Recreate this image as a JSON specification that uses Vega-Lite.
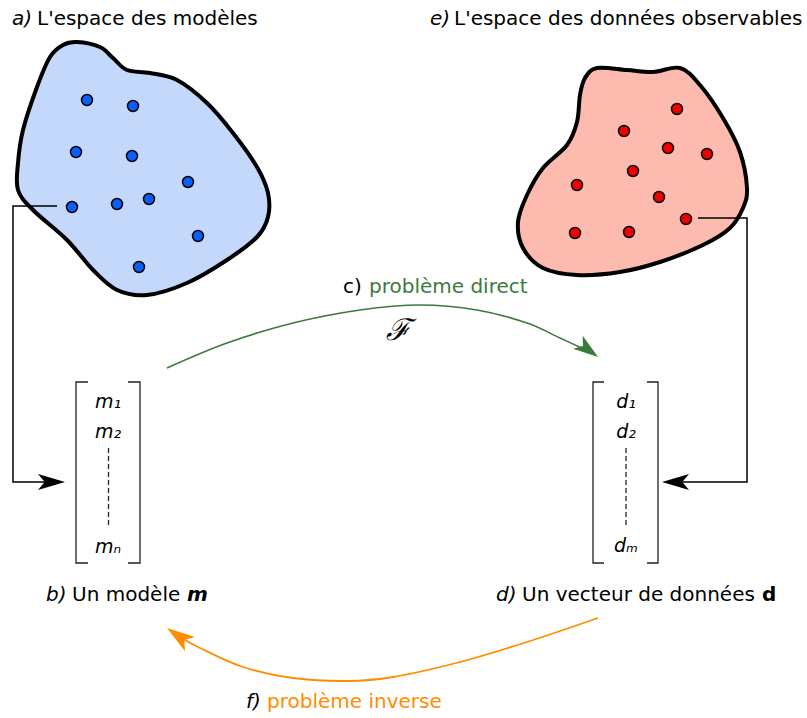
{
  "$schema": "https://vega.github.io/schema/vega-lite/v6.json",
  "width": 807,
  "height": 718,
  "padding": 0,
  "autosize": {"type": "fit", "contains": "padding"},
  "background": "white",
  "config": {"view": {"stroke": null}, "text": {"font": "DejaVu Sans"}},
  "datasets": {
    "blueBlob": [
      {"i": 1, "x": 77, "y": 42}, {"i": 2, "x": 100, "y": 47}, {"i": 3, "x": 113, "y": 58}, {"i": 4, "x": 127, "y": 70},
      {"i": 5, "x": 150, "y": 73}, {"i": 6, "x": 177, "y": 80}, {"i": 7, "x": 207, "y": 103}, {"i": 8, "x": 233, "y": 133},
      {"i": 9, "x": 257, "y": 167}, {"i": 10, "x": 268, "y": 193}, {"i": 11, "x": 268, "y": 217}, {"i": 12, "x": 257, "y": 237},
      {"i": 13, "x": 227, "y": 260}, {"i": 14, "x": 187, "y": 283}, {"i": 15, "x": 147, "y": 295}, {"i": 16, "x": 117, "y": 290},
      {"i": 17, "x": 93, "y": 270}, {"i": 18, "x": 67, "y": 240}, {"i": 19, "x": 33, "y": 210}, {"i": 20, "x": 18, "y": 190},
      {"i": 21, "x": 18, "y": 163}, {"i": 22, "x": 23, "y": 130}, {"i": 23, "x": 37, "y": 87}, {"i": 24, "x": 50, "y": 57},
      {"i": 25, "x": 63, "y": 45}
    ],
    "redBlob": [
      {"i": 1, "x": 597, "y": 68}, {"i": 2, "x": 627, "y": 70}, {"i": 3, "x": 653, "y": 72}, {"i": 4, "x": 680, "y": 68},
      {"i": 5, "x": 700, "y": 85}, {"i": 6, "x": 723, "y": 118}, {"i": 7, "x": 740, "y": 152}, {"i": 8, "x": 747, "y": 188},
      {"i": 9, "x": 743, "y": 208}, {"i": 10, "x": 730, "y": 228}, {"i": 11, "x": 703, "y": 245}, {"i": 12, "x": 660, "y": 262},
      {"i": 13, "x": 620, "y": 272}, {"i": 14, "x": 577, "y": 275}, {"i": 15, "x": 543, "y": 268}, {"i": 16, "x": 523, "y": 248},
      {"i": 17, "x": 518, "y": 222}, {"i": 18, "x": 527, "y": 195}, {"i": 19, "x": 543, "y": 168}, {"i": 20, "x": 567, "y": 145},
      {"i": 21, "x": 577, "y": 122}, {"i": 22, "x": 580, "y": 95}, {"i": 23, "x": 585, "y": 78}
    ],
    "blueDots": [
      {"x": 87, "y": 100}, {"x": 133, "y": 106}, {"x": 76, "y": 152}, {"x": 132, "y": 156}, {"x": 188, "y": 182},
      {"x": 72, "y": 207}, {"x": 117, "y": 204}, {"x": 149, "y": 199}, {"x": 198, "y": 236}, {"x": 139, "y": 267}
    ],
    "redDots": [
      {"x": 677, "y": 109}, {"x": 624, "y": 131}, {"x": 668, "y": 148}, {"x": 707, "y": 154}, {"x": 633, "y": 171},
      {"x": 577, "y": 185}, {"x": 659, "y": 197}, {"x": 575, "y": 233}, {"x": 629, "y": 232}, {"x": 686, "y": 219}
    ],
    "connectors": [
      {"g": "left", "i": 1, "x": 57, "y": 206}, {"g": "left", "i": 2, "x": 13, "y": 206}, {"g": "left", "i": 3, "x": 13, "y": 482}, {"g": "left", "i": 4, "x": 55, "y": 482},
      {"g": "right", "i": 1, "x": 698, "y": 218}, {"g": "right", "i": 2, "x": 747, "y": 218}, {"g": "right", "i": 3, "x": 747, "y": 482}, {"g": "right", "i": 4, "x": 672, "y": 482}
    ],
    "brackets": [
      {"g": "mL", "i": 1, "x": 88, "y": 382}, {"g": "mL", "i": 2, "x": 76, "y": 382}, {"g": "mL", "i": 3, "x": 76, "y": 563}, {"g": "mL", "i": 4, "x": 88, "y": 563},
      {"g": "mR", "i": 1, "x": 128, "y": 382}, {"g": "mR", "i": 2, "x": 140, "y": 382}, {"g": "mR", "i": 3, "x": 140, "y": 563}, {"g": "mR", "i": 4, "x": 128, "y": 563},
      {"g": "dL", "i": 1, "x": 604, "y": 382}, {"g": "dL", "i": 2, "x": 593, "y": 382}, {"g": "dL", "i": 3, "x": 593, "y": 563}, {"g": "dL", "i": 4, "x": 604, "y": 563},
      {"g": "dR", "i": 1, "x": 647, "y": 382}, {"g": "dR", "i": 2, "x": 658, "y": 382}, {"g": "dR", "i": 3, "x": 658, "y": 563}, {"g": "dR", "i": 4, "x": 647, "y": 563}
    ],
    "dashes": [
      {"g": "m", "i": 1, "x": 108.5, "y": 448}, {"g": "m", "i": 2, "x": 108.5, "y": 525},
      {"g": "d", "i": 1, "x": 626, "y": 448}, {"g": "d", "i": 2, "x": 626, "y": 525}
    ],
    "direct": [
      {"i": 1, "x": 167, "y": 368}, {"i": 2, "x": 227, "y": 343}, {"i": 3, "x": 293, "y": 323}, {"i": 4, "x": 360, "y": 310},
      {"i": 5, "x": 420, "y": 305}, {"i": 6, "x": 477, "y": 310}, {"i": 7, "x": 527, "y": 323}, {"i": 8, "x": 560, "y": 338},
      {"i": 9, "x": 588, "y": 351}
    ],
    "inverse": [
      {"i": 1, "x": 598, "y": 618}, {"i": 2, "x": 527, "y": 642}, {"i": 3, "x": 460, "y": 662}, {"i": 4, "x": 393, "y": 677},
      {"i": 5, "x": 347, "y": 681}, {"i": 6, "x": 293, "y": 678}, {"i": 7, "x": 243, "y": 667}, {"i": 8, "x": 200, "y": 648},
      {"i": 9, "x": 180, "y": 637}
    ],
    "headRight": [{"x": 51.5, "y": 482}],
    "headLeft": [{"x": 675.5, "y": 482}],
    "headDirect": [{"x": 588, "y": 349.6}],
    "headInverse": [{"x": 178.5, "y": 636}],
    "textItalic": [
      {"x": 12, "y": 25, "t": "a)"}, {"x": 430, "y": 25, "t": "e)"},
      {"x": 46, "y": 601, "t": "b)"}, {"x": 496, "y": 601, "t": "d)"}, {"x": 246, "y": 708, "t": "f)"}
    ],
    "textNormal": [
      {"x": 37, "y": 25, "t": "L'espace des modèles"}, {"x": 454, "y": 25, "t": "L'espace des données observables"},
      {"x": 72, "y": 601, "t": "Un modèle"}, {"x": 522, "y": 601, "t": "Un vecteur de données"}, {"x": 343, "y": 293, "t": "c)"}
    ],
    "textBoldItalic": [{"x": 187, "y": 601, "t": "m"}],
    "textBold": [{"x": 762, "y": 601, "t": "d"}],
    "textGreen": [{"x": 369, "y": 293, "t": "problème direct"}],
    "textOrange": [{"x": 267, "y": 708, "t": "problème inverse"}],
    "vectorLabels": [
      {"x": 108, "y": 408, "t": "m₁"}, {"x": 108, "y": 438, "t": "m₂"}, {"x": 108, "y": 553, "t": "mₙ"},
      {"x": 626, "y": 408, "t": "d₁"}, {"x": 626, "y": 438, "t": "d₂"}, {"x": 626, "y": 552, "t": "dₘ"}
    ],
    "operator": [{"x": 398, "y": 331, "t": "ℱ"}]
  },
  "encoding": {
    "x": {"field": "x", "type": "quantitative", "scale": {"domain": [0, 807], "nice": false, "zero": false}, "axis": null},
    "y": {"field": "y", "type": "quantitative", "scale": {"domain": [0, 718], "nice": false, "zero": false, "reverse": true}, "axis": null}
  },
  "layer": [
    {"data": {"name": "blueBlob"}, "mark": {"type": "line", "interpolate": "cardinal-closed", "fill": "#c4d8fb", "stroke": "black", "strokeWidth": 4}, "encoding": {"order": {"field": "i"}}},
    {"data": {"name": "redBlob"}, "mark": {"type": "line", "interpolate": "cardinal-closed", "fill": "#fcbbae", "stroke": "black", "strokeWidth": 4}, "encoding": {"order": {"field": "i"}}},
    {"data": {"name": "blueDots"}, "mark": {"type": "point", "shape": "circle", "filled": true, "size": 120, "fill": "#0a5ff7", "stroke": "black", "strokeWidth": 1.5, "opacity": 1}},
    {"data": {"name": "redDots"}, "mark": {"type": "point", "shape": "circle", "filled": true, "size": 120, "fill": "#f20000", "stroke": "black", "strokeWidth": 1.5, "opacity": 1}},
    {"data": {"name": "connectors"}, "mark": {"type": "line", "stroke": "black", "strokeWidth": 1.5}, "encoding": {"detail": {"field": "g"}, "order": {"field": "i"}}},
    {"data": {"name": "brackets"}, "mark": {"type": "line", "stroke": "#222222", "strokeWidth": 1.3}, "encoding": {"detail": {"field": "g"}, "order": {"field": "i"}}},
    {"data": {"name": "dashes"}, "mark": {"type": "line", "stroke": "#222222", "strokeWidth": 1.3, "strokeDash": [5, 3]}, "encoding": {"detail": {"field": "g"}, "order": {"field": "i"}}},
    {"data": {"name": "direct"}, "mark": {"type": "line", "interpolate": "cardinal", "stroke": "#3c7a3c", "strokeWidth": 1.6}, "encoding": {"order": {"field": "i"}}},
    {"data": {"name": "inverse"}, "mark": {"type": "line", "interpolate": "cardinal", "stroke": "#ff8c00", "strokeWidth": 1.8}, "encoding": {"order": {"field": "i"}}},
    {"data": {"name": "headRight"}, "mark": {"type": "point", "shape": "M1,0 L-1,-0.6 L-0.5,0 L-1,0.6 Z", "filled": true, "size": 729, "angle": 0, "fill": "black", "strokeWidth": 0, "opacity": 1}},
    {"data": {"name": "headLeft"}, "mark": {"type": "point", "shape": "M1,0 L-1,-0.6 L-0.5,0 L-1,0.6 Z", "filled": true, "size": 729, "angle": 180, "fill": "black", "strokeWidth": 0, "opacity": 1}},
    {"data": {"name": "headDirect"}, "mark": {"type": "point", "shape": "M1,0 L-1,-0.65 L-0.5,0 L-1,0.65 Z", "filled": true, "size": 625, "angle": 36, "fill": "#3c7a3c", "strokeWidth": 0, "opacity": 1}},
    {"data": {"name": "headInverse"}, "mark": {"type": "point", "shape": "M1,0 L-1,-0.62 L-0.5,0 L-1,0.62 Z", "filled": true, "size": 784, "angle": 215, "fill": "#ff8c00", "strokeWidth": 0, "opacity": 1}},
    {"data": {"name": "textItalic"}, "mark": {"type": "text", "align": "left", "baseline": "alphabetic", "fontSize": 20, "fontStyle": "italic", "fill": "black"}, "encoding": {"text": {"field": "t"}}},
    {"data": {"name": "textNormal"}, "mark": {"type": "text", "align": "left", "baseline": "alphabetic", "fontSize": 20, "fill": "black"}, "encoding": {"text": {"field": "t"}}},
    {"data": {"name": "textBoldItalic"}, "mark": {"type": "text", "align": "left", "baseline": "alphabetic", "fontSize": 20, "fontStyle": "italic", "fontWeight": "bold", "fill": "black"}, "encoding": {"text": {"field": "t"}}},
    {"data": {"name": "textBold"}, "mark": {"type": "text", "align": "left", "baseline": "alphabetic", "fontSize": 20, "fontWeight": "bold", "fill": "black"}, "encoding": {"text": {"field": "t"}}},
    {"data": {"name": "textGreen"}, "mark": {"type": "text", "align": "left", "baseline": "alphabetic", "fontSize": 20, "fill": "#3c7a3c"}, "encoding": {"text": {"field": "t"}}},
    {"data": {"name": "textOrange"}, "mark": {"type": "text", "align": "left", "baseline": "alphabetic", "fontSize": 20, "fill": "#ff8c00"}, "encoding": {"text": {"field": "t"}}},
    {"data": {"name": "vectorLabels"}, "mark": {"type": "text", "align": "center", "baseline": "alphabetic", "fontSize": 19, "fontStyle": "italic", "fill": "black"}, "encoding": {"text": {"field": "t"}}},
    {"data": {"name": "operator"}, "mark": {"type": "text", "align": "center", "baseline": "middle", "fontSize": 30, "fontStyle": "italic", "font": "DejaVu Serif", "fill": "black"}, "encoding": {"text": {"field": "t"}}}
  ]
}
